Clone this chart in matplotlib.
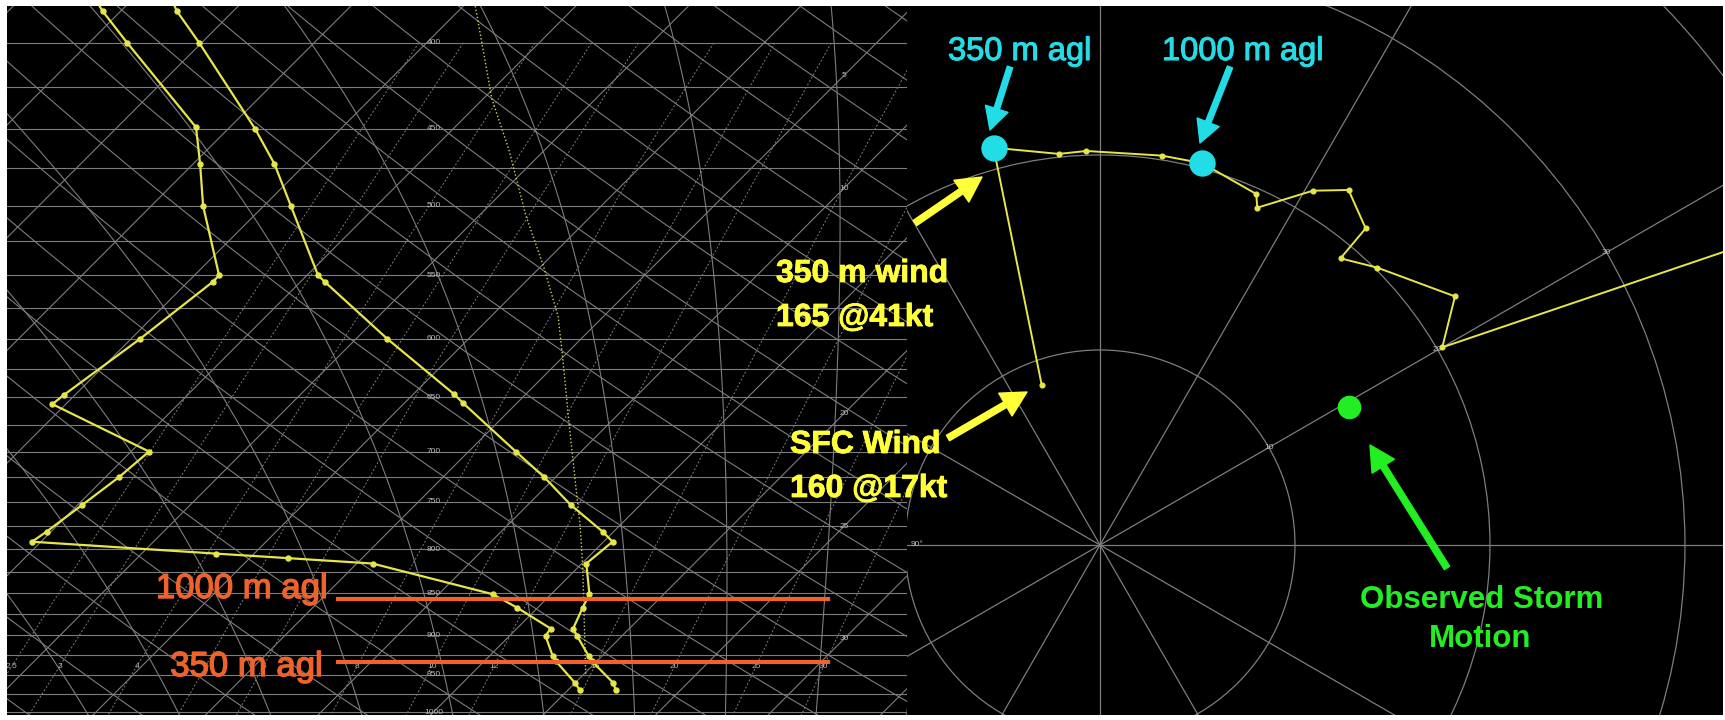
import numpy as np
import matplotlib
matplotlib.use("Agg")
import matplotlib.pyplot as plt
import matplotlib.patheffects as pe
from matplotlib.patches import Circle, FancyArrowPatch
from matplotlib.transforms import blended_transform_factory

plt.rcParams['font.family'] = ['Liberation Sans', 'DejaVu Sans']

# ---------------- sounding (hPa, deg C) ----------------
temp_p = [375, 383, 400, 450, 472, 500, 550, 555, 600, 647, 655, 700, 725,
          753, 781, 792, 816, 851, 867, 892, 901, 926, 933, 961, 970]
temp_c = [-28.5, -27.5, -25.1, -18.8, -16.4, -13.8, -9.5, -8.9, -3.6, 1.8,
          2.6, 7.1, 9.5, 11.9, 14.5, 15.4, 15.2, 16.7, 17.0, 17.5, 18.0, 19.4,
          19.8, 21.7, 22.1]
dewp_p = [375, 383, 400, 449, 472, 500, 550, 555, 600, 648, 656, 700, 725,
          753, 781, 792, 805, 810, 816, 851, 867, 892, 901, 926, 933, 961, 970]
dewp_c = [-31.9, -30.8, -28.3, -21.5, -19.7, -17.7, -13.9, -13.9, -14.6,
          -15.5, -15.6, -9.2, -9.4, -9.8, -10.2, -10.4, -1.7, 1.7, 5.7,
          12.4, 14.1, 16.5, 16.6, 17.8, 18.2, 20.0, 20.5]
parcel_p = [375, 382, 432, 463, 507, 543, 582, 617, 677, 776, 820, 900, 950]
parcel_c = [-15.0, -14.3, -9.6, -6.6, -2.9, 0.1, 3.0, 5.1, 8.4, 13.3, 15.2,
            18.3, 20.1]

# heights above ground marked on the sounding
agl_p = [934, 857]
agl_text = ['350 m agl', '1000 m agl']

# ---------------- hodograph (wind direction deg, speed kt) ----------------
hodo_dir = [160, 165, 174, 178, 189, 195, 204, 205, 211, 215, 220, 220, 225,
            235, 240, 245.5]
hodo_kt = [17, 41, 39.2, 39.3, 39.3, 39.4, 38.3, 37.1, 41.2, 43.2, 41.2, 37.3,
           39.1, 43.2, 39.4, 76.7]
i_350, i_1000 = 1, 5
storm_dir, storm_kt = 241, 28.4

ring_speeds = [10, 20, 30, 40]          # m/s
mix_ratios = [2.5, 3, 4, 5, 6, 8, 10, 12, 16, 20, 25, 30]   # g/kg
iso_labels = [5, 10, 20, 25, 30]

# ---------------- colours ----------------
GRID = '#7d7d7d'
LABEL = '#b8b8b8'
YEL = '#e6e64a'
YEL_TXT = '#ffff3a'
ORANGE = '#f0622c'
CYAN = '#22dde6'
GREEN = '#22ee22'

W, H = 1725, 720
fig = plt.figure(figsize=(W / 100, H / 100), dpi=100, facecolor='white')


def px_rect(x0, y0, x1, y1):
    return [x0 / W, 1 - y1 / H, (x1 - x0) / W, (y1 - y0) / H]


def fxy(x, y):
    return (x / W, 1 - y / H)


back = fig.add_axes(px_rect(7, 6, 1723, 715))
back.set_facecolor('black')
back.set_xticks([])
back.set_yticks([])
for s in back.spines.values():
    s.set_visible(False)

# ---------------- skew-T (45 degree isotherms) ----------------
SKEW = 32.4
X_LEFT, X_RIGHT = -3.956, 36.04


def skew_x(t, p):
    return np.asarray(t, float) + SKEW * np.log(1000.0 / np.asarray(p, float))


def dewpoint_from_e(e):
    lg = np.log(np.asarray(e, float) / 6.112)
    t_w = 243.5 * lg / (17.67 - lg)
    t_i = 272.62 * lg / (22.46 - lg)
    return np.where(t_w < 0, t_i, t_w)


ax = fig.add_axes(px_rect(7, 6, 907, 715))
ax.set_facecolor('none')
ax.set_yscale('log')
ax.set_ylim(1004.1, 380.3)
ax.set_xlim(X_LEFT, X_RIGHT)
ax.axis('off')

gk = dict(color=GRID, lw=0.8, zorder=1)
pp = np.geomspace(360, 1020, 80)

for p in np.arange(375, 1026, 25):
    ax.axhline(p, **gk)

for t in range(-120, 60, 5):
    ax.plot(skew_x(t, pp), pp, **gk)

for th in range(250, 480, 5):
    tt = th * (pp / 1000.0) ** 0.2857 - 273.15
    ax.plot(skew_x(tt, pp), pp, **gk)


def moist_adiabat(t0, plev):
    Rd, Cp, Lv, eps = 287.04, 1005.7, 2.501e6, 0.622

    def dtdp(T, p):
        es = 6.112 * np.exp(17.67 * (T - 273.15) / (T - 29.65))
        rs = eps * es / (p - es)
        return (Rd * T + Lv * rs) / (Cp + Lv * Lv * rs * eps / (Rd * T * T)) / p

    T = t0 + 273.15
    out = [T]
    for p0, p1 in zip(plev[:-1], plev[1:]):
        dp = p1 - p0
        k1 = dtdp(T, p0)
        k2 = dtdp(T + 0.5 * dp * k1, p0 + 0.5 * dp)
        T = T + dp * k2
        out.append(T)
    return np.array(out) - 273.15


pm = np.linspace(1020, 360, 120)
for tw in range(-12, 40, 4):
    tm = moist_adiabat(tw + 0.6, pm)
    ax.plot(skew_x(tm, pm), pm, **gk)

pw = np.geomspace(400, 1020, 40)
for w in mix_ratios:
    wk = w / 1000.0
    td = dewpoint_from_e(wk * pw / (0.622 + wk))
    ax.plot(skew_x(td, pw), pw, color=GRID, lw=0.7, ls=(0, (2, 2)), zorder=1)
    td0 = dewpoint_from_e(wk * 939 / (0.622 + wk))
    ax.text(skew_x(td0, 939), 939, f'{w:g}', color=LABEL, fontsize=6,
            ha='center', va='center', zorder=2, clip_on=True)

bt = blended_transform_factory(ax.transAxes, ax.transData)
for p in range(400, 1001, 50):
    ax.text(0.474, p, str(p), transform=bt, color=LABEL, fontsize=6,
            ha='center', va='center', zorder=2)

# isotherm labels where each isotherm crosses the label column
x_lab = X_LEFT + 0.930 * (X_RIGHT - X_LEFT)
for t in iso_labels:
    p_lab = 1000.0 / np.exp((x_lab - t) / SKEW)
    ax.text(x_lab, p_lab, str(t), color=LABEL, fontsize=6,
            ha='center', va='center', zorder=2)

ax.plot(skew_x(parcel_c, parcel_p), parcel_p, color='#d2d264', lw=1.0,
        ls=(0, (1, 1.6)), zorder=3)

ax.plot(skew_x(temp_c, temp_p), temp_p, color=YEL, lw=1.6, marker='o', ms=3.6,
        markevery=list(range(1, len(temp_p))), zorder=4)
ax.plot(skew_x(dewp_c, dewp_p), dewp_p, color=YEL, lw=1.6, marker='o', ms=3.6,
        markevery=list(range(1, len(dewp_p))), zorder=4)

for p in agl_p:
    ax.axhline(p, xmin=0.368, xmax=0.912, color=ORANGE, lw=3, zorder=5)

thick_o = [pe.withStroke(linewidth=1.0, foreground=ORANGE)]
fig.text(*fxy(328, 598), agl_text[1], color=ORANGE, fontsize=25, ha='right',
         va='baseline', path_effects=thick_o)
fig.text(*fxy(323, 676), agl_text[0], color=ORANGE, fontsize=25, ha='right',
         va='baseline', path_effects=thick_o)

# ---------------- hodograph ----------------
KT = 0.514444
hx = fig.add_axes(px_rect(907, 6, 1723, 715))
hx.set_facecolor('none')
hx.set_xlim(-9.897, 31.95)
hx.set_ylim(-8.718, 27.64)
hx.axis('off')

for r in ring_speeds:
    hx.add_patch(Circle((0, 0), r, fill=False, ec=GRID, lw=0.9, zorder=1))
for a in range(0, 360, 30):
    ar = np.deg2rad(a)
    hx.plot([0, 70 * np.cos(ar)], [0, 70 * np.sin(ar)], color=GRID, lw=0.9,
            zorder=1)
for r in ring_speeds[:3]:
    ar = np.deg2rad(30)
    hx.text(r * np.cos(ar), r * np.sin(ar), str(r), color=LABEL, fontsize=6,
            ha='center', va='center', zorder=2)
hx.text(-9.4, 0, '90°', color=LABEL, fontsize=6, ha='center', va='center',
        zorder=2)

d = np.deg2rad(hodo_dir)
s = np.asarray(hodo_kt) * KT
u = -s * np.sin(d)
v = -s * np.cos(d)
hx.plot(u, v, color=YEL, lw=1.4, marker='o', ms=3.4,
        markevery=list(range(len(u) - 1)), zorder=4)

hx.plot(u[i_350], v[i_350], 'o', color=CYAN, ms=18, zorder=6)
hx.plot(u[i_1000], v[i_1000], 'o', color=CYAN, ms=18, zorder=6)

sd = np.deg2rad(storm_dir)
hx.plot(-storm_kt * KT * np.sin(sd), -storm_kt * KT * np.cos(sd), 'o',
        color=GREEN, ms=16, zorder=6)

# ---------------- annotations ----------------


def arrow(p0, p1, color, tw=0.45, hw=1.9, hl=1.8):
    fa = FancyArrowPatch(fxy(*p0), fxy(*p1), transform=fig.transFigure,
                         arrowstyle=f'simple,head_length={hl},head_width={hw},'
                                    f'tail_width={tw}',
                         mutation_scale=10, color=color, shrinkA=0, shrinkB=0,
                         zorder=10)
    fig.add_artist(fa)


thick_y = [pe.withStroke(linewidth=0.6, foreground=YEL_TXT)]
fig.text(*fxy(776, 282), '350 m wind', color=YEL_TXT, fontsize=23,
         fontweight='bold', va='baseline', path_effects=thick_y)
fig.text(*fxy(776, 326), f'{hodo_dir[i_350]} @{hodo_kt[i_350]:.0f}kt',
         color=YEL_TXT, fontsize=23, fontweight='bold', va='baseline',
         path_effects=thick_y)
fig.text(*fxy(790, 453), 'SFC Wind', color=YEL_TXT, fontsize=23,
         fontweight='bold', va='baseline', path_effects=thick_y)
fig.text(*fxy(790, 497), f'{hodo_dir[0]} @{hodo_kt[0]:.0f}kt',
         color=YEL_TXT, fontsize=23, fontweight='bold', va='baseline',
         path_effects=thick_y)
arrow((915, 223), (982, 177), YEL_TXT)
arrow((948, 438), (1027, 392), YEL_TXT)

thick_c = [pe.withStroke(linewidth=0.8, foreground=CYAN)]
fig.text(*fxy(948, 60), '350 m agl', color=CYAN, fontsize=23.5, va='baseline',
         path_effects=thick_c)
fig.text(*fxy(1162, 60), '1000 m agl', color=CYAN, fontsize=23.5,
         va='baseline', path_effects=thick_c)
arrow((1010, 67), (990, 130), CYAN, tw=0.4, hw=1.7, hl=1.6)
arrow((1230, 67), (1200, 143), CYAN, tw=0.4, hw=1.7, hl=1.6)

fig.text(*fxy(1482, 608), 'Observed Storm', color=GREEN, fontsize=22.5,
         fontweight='bold', ha='center', va='baseline')
fig.text(*fxy(1480, 647), 'Motion', color=GREEN, fontsize=22.5,
         fontweight='bold', ha='center', va='baseline')
arrow((1447, 568), (1370, 445), GREEN)

fig.savefig('out.png', dpi=100, facecolor='white')
